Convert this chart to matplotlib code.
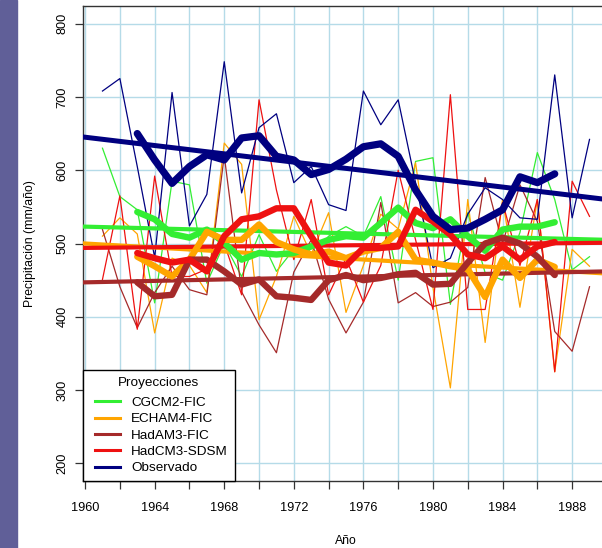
import matplotlib
matplotlib.use("Agg")
import matplotlib.pyplot as plt
from matplotlib.lines import Line2D
from matplotlib.patches import Rectangle

plt.rcParams["font.family"] = ["Liberation Sans", "DejaVu Sans"]

years = list(range(1961, 1990))
smooth_years = list(range(1963, 1988))

names = ["CGCM2-FIC", "ECHAM4-FIC", "HadAM3-FIC", "HadCM3-SDSM", "Observado"]
colors = ["#33ee33", "#ffa500", "#a52a2a", "#ee1111", "#000080"]

# annual values (mm/año)
cgcm2 = [630, 564, 546, 419, 585, 580, 446, 500, 455, 512, 462, 492, 482, 510, 523,
         510, 564, 450, 612, 617, 417, 542, 460, 450, 515, 624, 560, 464, 482]
echam4 = [510, 535, 513, 378, 480, 470, 433, 637, 608, 396, 455, 537, 485, 542, 406,
          470, 540, 520, 610, 440, 303, 560, 365, 560, 413, 560, 325, 492, 469]
hadam3 = [519, 441, 385, 433, 469, 437, 430, 620, 434, 389, 351, 461, 505, 424, 378,
          420, 556, 419, 433, 414, 420, 440, 590, 500, 580, 530, 380, 353, 441]
hadcm3 = [451, 565, 383, 592, 455, 455, 465, 500, 430, 696, 573, 478, 560, 430, 480,
          420, 470, 600, 505, 410, 703, 410, 410, 556, 470, 560, 325, 585, 537]
observado = [708, 725, 605, 481, 706, 524, 567, 748, 569, 658, 677, 583, 605, 553, 545,
             708, 662, 696, 583, 467, 480, 540, 576, 560, 535, 533, 730, 535, 642]

# smoothed series (5-year running mean)
cgcm2_s = [543, 533, 513, 508, 519, 501, 478, 487, 485, 487, 496, 505, 510,
           508, 528, 549, 528, 521, 533, 510, 490, 519, 523, 523, 529]
echam4_s = [482, 469, 455, 478, 516, 505, 505, 526, 502, 492, 485, 489, 480,
            489, 494, 516, 478, 474, 469, 465, 427, 478, 453, 478, 468]
hadam3_s = [447, 428, 430, 478, 478, 462, 444, 451, 428, 426, 423, 450, 457,
            450, 453, 458, 460, 444, 445, 474, 500, 508, 500, 482, 457]
hadcm3_s = [487, 480, 474, 478, 462, 510, 533, 537, 548, 548, 510, 474, 470,
            494, 494, 496, 546, 530, 512, 485, 480, 496, 478, 496, 502]
observado_s = [650, 614, 582, 605, 621, 614, 644, 647, 619, 614, 594, 601, 615,
               632, 636, 619, 573, 537, 519, 521, 533, 546, 591, 583, 595]

# linear trends: value in 1960 and in 1990
trend_1960 = [523, 500, 447, 494, 645]
trend_1990 = [505, 459, 462, 501, 560]

annual = [cgcm2, echam4, hadam3, hadcm3, observado]
smooth = [cgcm2_s, echam4_s, hadam3_s, hadcm3_s, observado_s]

fig = plt.figure(figsize=(6.02, 5.48), dpi=100)
fig.patches.append(Rectangle((0, 0), 17 / 602, 1, transform=fig.transFigure,
                             color="#605f98", zorder=0))
ax = fig.add_axes([83 / 602, 67 / 548, 526 / 602, 475 / 548])
ax.set_xlim(1959.88, 1990.12)
ax.set_ylim(176, 824)

for x in range(1960, 1991, 2):
    ax.axvline(x, color="#b5dbe8", lw=1.0, zorder=0)
for y in range(200, 801, 100):
    ax.axhline(y, color="#b5dbe8", lw=1.0, zorder=0)

for vals, c in zip(annual, colors):
    ax.plot(years, vals, color=c, lw=0.9, zorder=2)
for a, b, c, n in zip(trend_1960, trend_1990, colors, names):
    ax.axline((1960, a), (1990, b), color=c, lw=3.6 if n == "Observado" else 3.0, zorder=3)
for vals, c, n in zip(smooth, colors, names):
    ax.plot(smooth_years, vals, color=c, lw=5.2 if n == "Observado" else 4.6,
            solid_joinstyle="round", solid_capstyle="round", zorder=4 if n != "Observado" else 5)

xt = list(range(1960, 1990, 2))
ax.set_xticks(xt)
ax.set_xticklabels([str(t) if t % 4 == 0 else "" for t in xt])
ax.set_yticks(range(200, 801, 100))
ax.tick_params(axis="both", labelsize=9.2, length=5.5, width=0.9, color="#333333")
ax.tick_params(axis="x", pad=9.5)
ax.tick_params(axis="y", pad=5)
for lab in ax.get_yticklabels():
    lab.set_rotation(90)
    lab.set_va("center")
for s in ax.spines.values():
    s.set_color("#333333")
    s.set_linewidth(1.0)

ax.set_xlabel("Año", fontsize=8.8)
ax.xaxis.set_label_coords(0.5, -60 / 475)
ax.xaxis.label.set_va("center")
ax.set_ylabel("Precipitación (mm/año)", fontsize=8.8)
ax.yaxis.set_label_coords(-53 / 526, 0.5)
ax.yaxis.label.set_va("center")

handles = [Line2D([], [], color=c, lw=2.2) for c in colors]
leg = ax.legend(handles, names, title="Proyecciones", loc="lower left",
                bbox_to_anchor=(0, 0), borderaxespad=0, fontsize=9.7,
                title_fontsize=9.7, fancybox=False, framealpha=1,
                edgecolor="black", handlelength=1.9, handletextpad=1.18,
                labelspacing=0.29, borderpad=0.5)
leg.get_frame().set_linewidth(1.0)
leg.set_zorder(10)
# nudge the handle lines right, and open a little more room under the title
for ln in leg.get_lines():
    ln.set_xdata([v + 3.6 for v in ln.get_xdata()])
leg._legend_box.sep = 5.4

fig.savefig("out.png", dpi=100)
